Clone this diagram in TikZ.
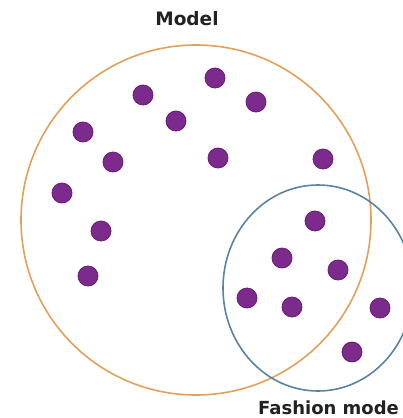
\documentclass[tikz,border=0pt]{standalone}
\usepackage{fontspec}
\setsansfont{DejaVu Sans}
\usetikzlibrary{positioning}
\usetikzlibrary{shapes.geometric}
\definecolor{dotfill}{RGB}{124,42,140}
\definecolor{dotrim}{RGB}{104,30,118}
\definecolor{modelline}{RGB}{226,160,88}
\definecolor{fashionline}{RGB}{88,132,162}
\definecolor{labeltext}{RGB}{34,34,34}
\tikzstyle{every dot} = []
\tikzstyle{dot} = [circle, fill=dotfill, draw=dotrim, line width=0.8pt, minimum size=20pt, inner sep=0pt, every dot]
\tikzstyle{set} = [inner sep=0pt, line width=1.6pt]
\tikzstyle{setname} = [font=\sffamily\bfseries\fontsize{18}{20}\selectfont, text=labeltext, inner sep=0pt]

\begin{document}
\begin{tikzpicture}[x=1pt, y=-1pt]
        \useasboundingbox (0,0) rectangle (403,418);
        \clip (0,0) rectangle (403,418);

        \node[set, circle, draw=modelline, minimum size=350pt] (model) at (196,220) {};
        \node[set, ellipse, draw=fashionline, minimum width=190pt, minimum height=206pt] (fashion) at (318,288) {};

        \node[setname, above=18pt of model, xshift=-9pt, font=\sffamily\bfseries\fontsize{18.5}{20}\selectfont] (modelname) {Model};
        \node[setname, anchor=base west] (fashionname) at (258,414.5) {Fashion mode};

        % model only
        \node[dot] (m1) at (215,78) {};
        \node[dot] (m2) at (143,95) {};
        \node[dot] (m3) at (256,102) {};
        \node[dot] (m4) at (176,121) {};
        \node[dot] (m5) at (83,132) {};
        \node[dot] (m6) at (113,162) {};
        \node[dot] (m7) at (218,158) {};
        \node[dot] (m8) at (323,159) {};
        \node[dot] (m9) at (62,193) {};
        \node[dot] (m10) at (101,231) {};
        \node[dot] (m11) at (88,276) {};

        % fashion model
        \node[dot] (f1) at (315,221) {};
        \node[dot] (f2) at (282,258) {};
        \node[dot] (f3) at (338,270) {};
        \node[dot] (f4) at (247,298) {};
        \node[dot] (f5) at (292,307) {};
        \node[dot] (f6) at (380,308) {};
        \node[dot] (f7) at (352,352) {};
    \end{tikzpicture}
\end{document}
